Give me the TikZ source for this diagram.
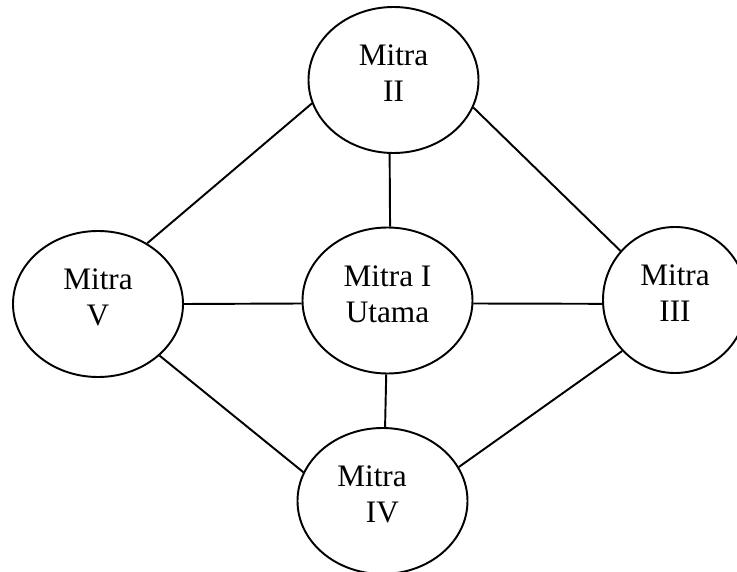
\documentclass[tikz,border=0pt]{standalone}
\usepackage{fontspec}
\setmainfont{Liberation Serif}
\usetikzlibrary{shapes.geometric}

\tikzset{
  mitra/.style={draw, ellipse, line width=1.1pt, inner sep=0pt,
    minimum width=3.4cm, minimum height=2.92cm},
  tag/.style={align=center, yshift=0.13cm,
    font=\fontsize{17.8pt}{20.5pt}\selectfont},
  link/.style={line width=1.1pt}
}

\begin{document}
\begin{tikzpicture}
  \useasboundingbox (0,0) rectangle (14.74,11.42);
  % The five partners
  \node[mitra, label={[tag]center:Mitra\\II}] (dua) at (7.87,9.82) {};
  \node[mitra, label={[tag]center:Mitra\\V}] (lima) at (1.96,5.34) {};
  \node[mitra, label={[tag]center:Mitra I\\Utama}] (utama) at (7.75,5.41) {};
  \node[mitra, minimum width=2.88cm, label={[tag]center:Mitra\\III}] (tiga) at (13.5,5.42) {};
  \node[mitra, label={[tag]center:Mitra\hspace*{0.42cm}\\IV}] (empat) at (7.65,1.40) {};
  % Outer ring
  \draw[link] (dua.196) -- (lima.51);
  \draw[link] (dua.341) -- (tiga.138);
  \draw[link] (lima.320) -- (empat.160);
  \draw[link] (tiga.224) -- (empat.24);
  % Spokes to the centre
  \draw[link] (dua.267) -- (utama.88);
  \draw[link] (lima.0) -- (utama.182);
  \draw[link] (utama.358) -- (tiga.183);
  \draw[link] (utama.269) -- (empat.88);
\end{tikzpicture}
\end{document}
